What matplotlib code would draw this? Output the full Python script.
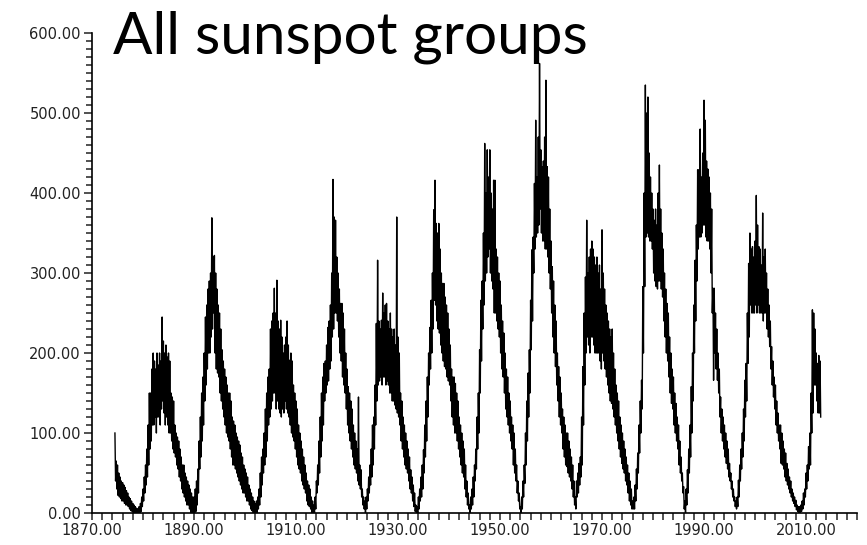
import numpy as np
import matplotlib
matplotlib.use("Agg")
import matplotlib.pyplot as plt
from matplotlib.ticker import MultipleLocator, FixedLocator, FormatStrFormatter

# quarterly readings of the group counts per solar cycle:
# (first quarter, upper values, lower values)
cycle_11 = (1874.5,
            [100, 65, 60, 50, 45, 40, 38, 35, 32, 28, 25, 20, 18, 15, 12, 10, 8, 6],
            [40, 30, 22, 20, 18, 15, 15, 12, 10, 10, 8, 5, 3, 2, 0, 0, 0, 0])
cycle_12 = (1879.0,
            [5, 8, 12, 20, 30, 45, 60, 80, 110, 150, 150, 180, 200, 190, 180, 200,
             185, 200, 190, 245, 215, 200, 210, 195, 200, 190, 150, 145, 140, 110, 100, 95,
             90, 80, 70, 60, 60, 50, 45, 40, 35, 30, 25, 20],
            [0, 0, 2, 8, 15, 25, 35, 45, 60, 80, 90, 110, 110, 120, 100, 120,
             120, 110, 130, 140, 125, 110, 120, 110, 100, 100, 90, 80, 75, 70, 60, 55,
             45, 40, 30, 25, 20, 15, 10, 10, 5, 0, 0, 0])
cycle_13 = (1890.0,
            [20, 30, 40, 55, 90, 120, 150, 170, 200, 245, 260, 280, 290, 300, 369, 320,
             322, 300, 280, 260, 250, 230, 204, 190, 180, 170, 160, 150, 150, 140, 120, 115,
             110, 100, 95, 90, 85, 75, 70, 60, 55, 50, 45, 35, 30, 25, 20, 15],
            [0, 2, 10, 25, 55, 70, 90, 110, 140, 160, 180, 200, 200, 220, 230, 250,
             200, 180, 175, 170, 150, 140, 130, 120, 110, 100, 95, 90, 80, 70, 60, 60,
             55, 50, 45, 40, 35, 30, 25, 25, 20, 15, 15, 10, 5, 3, 0, 0])
cycle_14 = (1902.0,
            [12, 15, 20, 30, 50, 70, 80, 100, 130, 150, 170, 180, 230, 240, 250, 281,
             250, 291, 240, 230, 241, 220, 200, 210, 220, 240, 210, 191, 200, 190, 160, 150,
             140, 130, 110, 100, 90, 80, 70, 60, 50, 40, 35, 30, 20, 15],
            [0, 0, 5, 10, 20, 35, 50, 60, 70, 90, 110, 120, 130, 140, 150, 150,
             130, 140, 130, 125, 120, 130, 125, 140, 130, 125, 120, 110, 100, 95, 90, 80,
             70, 60, 55, 50, 40, 35, 30, 25, 15, 10, 8, 5, 0, 0])
cycle_15 = (1913.5,
            [10, 20, 40, 60, 90, 120, 150, 170, 187, 190, 210, 232, 240, 260,
             300, 417, 370, 366, 320, 300, 280, 262, 262, 250, 230, 200, 180, 158, 150, 140,
             130, 110, 100, 90, 80, 145, 60, 54, 30, 20],
            [0, 5, 25, 35, 50, 70, 90, 110, 140, 150, 160, 165, 180, 190,
             220, 230, 250, 250, 240, 220, 200, 190, 170, 160, 150, 130, 110, 100, 90, 80,
             70, 60, 55, 50, 40, 35, 30, 20, 10, 5])
cycle_16 = (1923.5,
            [15, 20, 30, 45, 60, 80, 110, 120, 160, 237, 316, 240, 230, 241,
             275, 250, 260, 262, 240, 230, 250, 230, 220, 230, 210, 370, 220, 200, 150, 140,
             120, 110, 100, 90, 80, 70, 54, 45, 35, 25, 10],
            [0, 5, 15, 25, 35, 45, 60, 80, 110, 140, 160, 165, 170, 160,
             170, 170, 160, 165, 160, 150, 150, 140, 140, 135, 130, 125, 120, 110, 90, 80,
             70, 60, 55, 50, 40, 30, 25, 15, 8, 2, 0])
cycle_17 = (1933.75,
            [8, 20, 30, 45, 60, 79, 110, 140, 170, 200, 232, 266, 300,
             379, 416, 362, 350, 362, 330, 300, 287, 287, 270, 260, 250, 230, 210, 180, 170,
             170, 162, 150, 140, 120, 110, 100, 90, 80, 60, 40, 25],
            [0, 5, 15, 20, 30, 50, 70, 90, 120, 160, 180, 200, 230,
             266, 260, 240, 230, 225, 210, 200, 190, 183, 180, 170, 165, 160, 140, 120, 110,
             100, 100, 90, 80, 70, 60, 50, 45, 30, 20, 10, 5])
cycle_18 = (1944.0,
            [10, 20, 30, 45, 60, 80, 120, 150, 204, 266, 290, 350, 462, 400, 454, 420,
             454, 400, 380, 416, 416, 330, 320, 300, 290, 260, 240, 225, 200, 180, 170, 150,
             140, 120, 110, 100, 80, 60, 40, 25, 8],
            [0, 5, 10, 20, 40, 55, 80, 100, 150, 190, 230, 260, 290, 300, 320, 330,
             300, 290, 280, 250, 250, 240, 230, 220, 200, 180, 170, 150, 130, 120, 110, 100,
             90, 80, 60, 50, 40, 25, 15, 5, 0])
cycle_19 = (1954.25,
            [20, 40, 60, 100, 140, 175, 204, 266, 329, 345, 412, 491, 420, 470, 562,
             454, 433, 440, 470, 541, 433, 420, 380, 340, 308, 290, 260, 240, 200, 183, 170,
             150, 130, 120, 110, 100, 100, 90, 80, 70, 60, 40],
            [5, 20, 37, 60, 90, 120, 150, 204, 240, 300, 330, 345, 350, 360, 380,
             350, 340, 340, 330, 330, 320, 300, 280, 250, 220, 200, 183, 160, 140, 120, 110,
             100, 80, 70, 60, 58, 50, 45, 40, 30, 20, 10])
cycle_20 = (1964.75,
            [20, 40, 50, 62, 70, 120, 183, 250, 295, 366, 300, 320, 330,
             340, 330, 320, 310, 320, 300, 310, 280, 354, 300, 280, 260, 250, 240, 230, 220,
             230, 200, 180, 160, 150, 140, 120, 110, 100, 90, 80, 70, 60, 50, 40, 30, 15],
            [5, 20, 25, 35, 45, 60, 110, 160, 200, 220, 210, 200, 220,
             220, 210, 200, 200, 200, 200, 190, 180, 200, 190, 180, 170, 160, 150, 140, 137,
             130, 120, 110, 100, 90, 80, 70, 62, 55, 50, 40, 35, 25, 15, 10, 5, 5])
cycle_21 = (1976.25,
            [20, 35, 55, 75, 110, 140, 166, 283, 400, 535, 500,
             520, 450, 420, 400, 380, 366, 380, 360, 400, 435, 380, 350, 330, 300, 280, 262,
             250, 220, 200, 180, 170, 150, 137, 120, 110, 90, 70, 50, 33, 15],
            [5, 15, 30, 50, 75, 100, 130, 200, 283, 345, 350,
             345, 340, 340, 330, 300, 290, 283, 280, 290, 290, 280, 270, 240, 220, 200, 190,
             170, 150, 137, 130, 110, 100, 90, 80, 60, 50, 40, 25, 5, 0])
cycle_22 = (1986.5,
            [30, 54, 80, 110, 158, 200, 260, 316, 360, 429, 429, 480, 420, 450,
             516, 491, 440, 430, 420, 400, 380, 281, 281, 250, 230, 200, 180, 145, 130, 120,
             110, 100, 90, 80, 62, 50, 40, 30, 20, 15],
            [10, 25, 50, 70, 100, 140, 200, 240, 290, 330, 345, 345, 350, 360,
             360, 345, 340, 340, 330, 300, 250, 166, 200, 180, 166, 150, 120, 100, 90, 80,
             70, 62, 55, 45, 40, 30, 20, 15, 8, 5])
cycle_23 = (1996.5,
            [20, 41, 60, 80, 100, 130, 166, 187, 250, 312, 350, 330, 333, 320,
             340, 397, 360, 333, 330, 310, 375, 320, 330, 300, 280, 260, 240, 208, 190, 170,
             160, 140, 125, 110, 110, 100, 90, 80, 75, 62, 55, 45, 40, 30, 25, 20, 16, 10, 8],
            [8, 20, 40, 55, 70, 90, 120, 140, 187, 220, 260, 250, 250, 250,
             260, 250, 260, 250, 250, 250, 240, 250, 250, 230, 220, 208, 180, 160, 145, 130,
             110, 100, 90, 80, 62, 60, 55, 45, 40, 35, 30, 25, 20, 15, 12, 8, 4, 2, 0])
cycle_24 = (2008.75,
            [8, 10, 15, 25, 30, 50, 60, 83, 100, 150, 254, 250, 230, 200, 187, 197, 190],
            [0, 2, 5, 10, 20, 30, 40, 55, 60, 100, 125, 160, 160, 140, 125, 125, 120])

cycles = [cycle_11, cycle_12, cycle_13, cycle_14, cycle_15, cycle_16, cycle_17,
          cycle_18, cycle_19, cycle_20, cycle_21, cycle_22, cycle_23, cycle_24]

# each quarter drawn as its upper reading followed by its lower one
t_parts, v_parts = [], []
for start, upper, lower in cycles:
    q = start + 0.25 * np.arange(len(upper))
    t_parts.append(np.column_stack([q, q + 0.125]).ravel())
    v_parts.append(np.column_stack([upper, lower]).ravel())
t = np.concatenate(t_parts)
groups = np.concatenate(v_parts).astype(float)

fig = plt.figure(figsize=(8.67, 5.45), dpi=100)
ax = fig.add_axes([0.1061, 0.0587, 0.8824, 0.8807])

ax.plot(t, groups, color="black", lw=1.0)

ax.set_xlim(1870, 2020)
ax.set_ylim(0, 600)
ax.spines["top"].set_visible(False)
ax.spines["right"].set_visible(False)
for s in ("left", "bottom"):
    ax.spines[s].set_linewidth(1.2)

ax.xaxis.set_major_locator(FixedLocator(np.arange(1870, 2011, 20)))
ax.xaxis.set_minor_locator(MultipleLocator(2))
ax.yaxis.set_major_locator(MultipleLocator(100))
ax.yaxis.set_minor_locator(MultipleLocator(10))
ax.xaxis.set_major_formatter(FormatStrFormatter("%.2f"))
ax.yaxis.set_major_formatter(FormatStrFormatter("%.2f"))
ax.tick_params(axis="both", which="both", direction="out", width=1.1, color="#222222",
               labelsize=10.5, labelcolor="#222222", pad=2)
ax.tick_params(axis="y", which="major", length=6)
ax.tick_params(axis="y", which="minor", length=4)
ax.tick_params(axis="x", which="both", length=5)

fig.text(0.130, 0.902, "All sunspot groups", fontsize=42, family="Lato",
         color="black", ha="left", va="baseline", zorder=10)

fig.savefig("out.png", dpi=100, facecolor="white")
